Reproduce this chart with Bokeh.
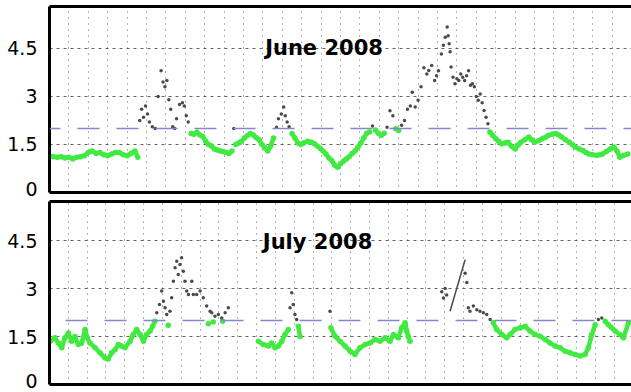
import numpy as np
from bokeh.plotting import figure
from bokeh.layouts import column
from bokeh.models import FixedTicker, LinearAxis, Span, Label, Range1d
from bokeh.embed import file_html
from bokeh.resources import INLINE

THRESHOLD = 2.0
Y_TICK_LABELS = ["0", "1.5", "3", "4.5"]

# ---------------- June 2008 (day of month offset, value) ----------------
june_day = [0.0, 0.2, 0.4, 0.6, 0.8, 1.0, 1.2, 1.4, 1.6, 1.8, 2.0, 2.2, 2.4, 2.6, 2.8, 3.0, 3.2, 3.4,
            3.6, 3.8, 4.0, 4.2, 4.4, 4.55,
            4.65, 4.75, 4.85, 4.95, 5.05, 5.15, 5.3, 5.45, 5.6, 5.75, 5.85, 5.95, 6.05, 6.15, 6.25,
            6.35, 6.45, 6.55, 6.7, 6.85, 6.95, 7.05, 7.15,
            7.3, 7.45, 7.6, 7.75, 7.9, 8.05, 8.2, 8.35, 8.5, 8.65, 8.8, 8.95, 9.1, 9.25, 9.4, 9.5,
            9.6, 9.75, 9.9, 10.05, 10.2, 10.35, 10.5, 10.65, 10.8, 10.95, 11.1, 11.25, 11.4, 11.55,
            11.7, 11.8, 11.95, 12.07, 12.15, 12.25, 12.35,
            12.5, 12.65, 12.8, 12.95, 13.1, 13.3, 13.5, 13.65, 13.8, 13.95, 14.1, 14.25, 14.4, 14.55,
            14.7, 14.85, 15.0, 15.15, 15.3, 15.45, 15.6, 15.75, 15.9, 16.05, 16.2, 16.35, 16.5,
            16.65, 16.8, 16.95, 17.1, 17.25, 17.4, 17.55, 17.7, 17.85, 18.0, 18.15, 18.3, 18.45,
            18.6, 18.7, 18.85, 19.0, 19.15, 19.3, 19.45, 19.55, 19.7, 19.85, 19.95, 20.05, 20.2,
            20.3, 20.4, 20.5, 20.55, 20.6, 20.65, 20.7, 20.8, 20.9, 21.0, 21.1, 21.2, 21.3, 21.4,
            21.5, 21.6, 21.7, 21.8, 21.9, 22.0, 22.1, 22.2, 22.3, 22.4, 22.5, 22.6,
            22.7, 22.85, 23.0, 23.15, 23.3, 23.5, 23.65, 23.8, 24.0, 24.15, 24.3, 24.5, 24.7,
            24.85, 25.0, 25.2, 25.4, 25.55, 25.7, 25.9, 26.1, 26.25, 26.4, 26.6, 26.8, 26.95,
            27.1, 27.3, 27.5, 27.65, 27.8, 28.0, 28.2, 28.35, 28.5, 28.7, 28.9, 29.1, 29.25,
            29.4, 29.6, 29.8]
june_val = [1.15, 1.12, 1.10, 1.12, 1.08, 1.10, 1.05, 1.10, 1.12, 1.15, 1.25, 1.30, 1.22, 1.25, 1.18,
            1.15, 1.20, 1.25, 1.25, 1.18, 1.15, 1.22, 1.30, 1.10,
            2.25, 2.6, 2.35, 2.7, 2.45, 2.2, 2.05, 2.0, 3.0, 3.8, 3.45, 3.3, 3.5, 2.9, 2.6,
            2.05, 2.0, 2.3, 2.75, 2.8, 2.7, 2.4, 2.2,
            1.84, 1.82, 1.88, 1.80, 1.75, 1.6, 1.5, 1.45, 1.36, 1.33, 1.3, 1.28, 1.25, 1.22, 1.3, 2.0,
            1.5, 1.55, 1.6, 1.7, 1.78, 1.84, 1.8, 1.72, 1.65, 1.5, 1.4, 1.3, 1.45, 1.7,
            2.04, 2.3, 2.45, 2.67, 2.4, 2.2, 2.05,
            1.84, 1.7, 1.55, 1.5, 1.55, 1.6, 1.57, 1.52, 1.45, 1.38, 1.3, 1.2, 1.08, 1.0,
            0.85, 0.79, 0.9, 0.98, 1.05, 1.12, 1.22, 1.3, 1.42, 1.55, 1.7, 1.85, 1.89,
            2.08, 1.95, 1.85, 1.78, 1.85, 2.04, 2.55, 2.4, 1.99, 1.94, 2.1, 2.25, 2.6,
            2.7, 3.13, 2.67, 2.88, 3.3, 3.9, 3.7, 3.81, 3.97, 3.5, 3.65, 3.8, 4.33,
            4.6, 4.85, 5.17, 4.9, 4.65, 4.4, 3.92, 3.6, 3.4, 3.55, 3.5, 3.7, 3.6, 3.5,
            3.65, 3.8, 3.35, 3.4, 3.3, 3.0, 2.88, 3.08, 2.8, 2.56, 2.35, 2.15,
            1.89, 1.78, 1.68, 1.6, 1.52, 1.55, 1.57, 1.45, 1.36, 1.48, 1.57, 1.65, 1.73,
            1.65, 1.57, 1.62, 1.68, 1.72, 1.78, 1.82, 1.84, 1.8, 1.73, 1.65, 1.57, 1.5,
            1.42, 1.36, 1.31, 1.25, 1.2, 1.18, 1.16, 1.18, 1.2, 1.28, 1.36, 1.42, 1.3,
            1.1, 1.16, 1.2]

# ---------------- July 2008 ----------------
july_day = [0.03, 0.29, 0.47, 0.65, 0.82, 1.0, 1.18, 1.35, 1.53, 1.71, 1.89, 2.01, 2.15, 2.42, 2.68,
            2.95, 3.12, 3.3, 3.48, 3.66, 3.83, 4.01, 4.28, 4.45, 4.63, 4.81, 4.99, 5.16, 5.34,
            5.48, 5.6,
            5.7, 5.84, 5.96, 6.05, 6.14, 6.23, 6.31, 6.4, 6.49, 6.58, 6.67, 6.76, 6.84, 6.93,
            7.02, 7.11, 7.2, 7.29, 7.38, 7.56, 7.64, 7.82, 8.0, 8.17, 8.35, 8.44, 8.53, 8.62,
            8.7, 8.79, 8.97, 9.15, 9.2, 9.33, 9.5,
            11.1, 11.36, 11.63, 11.8, 11.98, 12.16, 12.34, 12.51, 12.69, 12.78, 12.87, 12.95,
            13.04, 13.13, 13.22, 13.31,
            14.9, 14.95, 15.17, 15.44, 15.7, 15.97, 16.23, 16.5, 16.77, 17.03, 17.3, 17.56,
            17.83, 18.09, 18.27, 18.53, 18.71, 18.89, 18.98, 19.06, 19.16,
            20.84, 20.93, 21.02, 21.1,
            22.08, 22.17, 22.25, 22.34, 22.52, 22.7, 22.87, 23.05, 23.23, 23.41,
            23.58, 23.76, 24.03, 24.29, 24.47, 24.73, 25.0, 25.27, 25.53, 25.8, 26.06, 26.33,
            26.59, 26.86, 27.13, 27.39, 27.66, 27.92, 28.19, 28.45, 28.63, 28.81, 28.99, 29.16,
            29.34, 29.52, 29.69, 29.87, 30.05, 30.31, 30.49, 30.76]
july_val = [1.35, 1.46, 1.3, 1.15, 1.46, 1.61, 1.35, 1.5, 1.25, 1.3, 1.72, 1.46, 1.3, 1.15, 0.99,
            0.83, 0.8, 0.99, 1.09, 1.25, 1.2, 1.15, 1.35, 1.56, 1.72, 1.56, 1.35, 1.56, 1.67,
            1.82, 1.98,
            2.24, 2.5, 2.92, 2.6, 2.4, 2.19, 1.85, 2.29, 2.71, 3.23, 3.65, 3.85, 3.44, 3.75,
            3.96, 3.54, 3.23, 2.92, 2.81, 3.23, 2.81, 2.81, 2.92, 2.71, 2.45, 1.9, 2.29, 2.24,
            1.95, 2.13, 2.19, 2.08, 1.98, 2.24, 2.4,
            1.35, 1.25, 1.2, 1.3, 1.15, 1.2, 1.35, 1.56, 1.72, 2.4, 2.87, 2.5,
            2.19, 2.03, 1.82, 1.5,
            2.29, 1.77, 1.51, 1.35, 1.2, 1.04, 0.94, 1.15, 1.25, 1.3, 1.41, 1.35,
            1.46, 1.35, 1.56, 1.46, 1.77, 1.93, 1.67, 1.5, 1.35,
            2.9, 2.7, 3.0, 2.8,
            3.48, 3.19, 2.4, 2.29, 2.45, 2.34, 2.29, 2.24, 2.19, 2.03,
            1.93, 1.72, 1.56, 1.46, 1.56, 1.72, 1.77, 1.82, 1.67, 1.56, 1.51, 1.41,
            1.3, 1.2, 1.15, 1.04, 0.99, 0.94, 0.89, 0.94, 1.15, 1.56, 1.87, 2.03,
            2.08, 1.98, 1.87, 1.77, 1.67, 1.56, 1.46, 1.93]
july_ramp_day = [21.28, 22.08]
july_ramp_val = [2.29, 3.9]

GREEN = "#40ea40"
GRAY = "#4a4a4a"


def panel(days, vals, title, n_days, x_end, y_end, height, border_top, border_bottom,
          border_left, dash_offset, title_x, title_y, zero_pos):
    p = figure(width=631, height=height, output_backend="svg", toolbar_location=None,
               x_range=Range1d(0, x_end), y_range=Range1d(0, y_end),
               min_border_left=border_left, min_border_right=0,
               min_border_top=border_top, min_border_bottom=border_bottom)
    p.outline_line_color = None
    p.background_fill_color = "white"
    p.border_fill_color = "white"

    # left axis: labels only (the "0" label is lifted slightly so it stays inside the panel)
    tick_pos = [zero_pos, 1.5, 3, 4.5]
    p.yaxis.ticker = FixedTicker(ticks=tick_pos)
    p.yaxis.major_label_overrides = {t: s for t, s in zip(tick_pos, Y_TICK_LABELS)}
    p.yaxis.major_label_text_font = "DejaVu Sans"
    p.yaxis.major_label_text_font_size = "19px"
    p.yaxis.major_label_text_color = "black"
    p.yaxis.major_label_standoff = 6
    for ax in [p.yaxis[0], p.xaxis[0]]:
        ax.axis_line_width = 3
        ax.axis_line_color = "black"
        ax.major_tick_line_color = None
        ax.minor_tick_line_color = None
    p.xaxis.ticker = FixedTicker(ticks=[])
    p.xaxis.major_label_text_font_size = "0px"
    p.xaxis.major_label_standoff = 0
    top_axis = LinearAxis(ticker=FixedTicker(ticks=[]), axis_line_width=3,
                          axis_line_color="black", major_tick_line_color=None,
                          minor_tick_line_color=None, major_label_text_font_size="0px",
                          major_label_standoff=0)
    p.add_layout(top_axis, "above")

    # grids
    p.xgrid.ticker = FixedTicker(ticks=list(range(1, n_days + 1)))
    p.xgrid.grid_line_color = "#303030"
    p.xgrid.grid_line_alpha = 0.75
    p.xgrid.grid_line_dash = "1 5"
    p.ygrid.ticker = FixedTicker(ticks=[1.5, 3, 4.5])
    p.ygrid.grid_line_color = "#303030"
    p.ygrid.grid_line_alpha = 0.75
    p.ygrid.grid_line_dash = "3 4"

    # threshold
    p.add_layout(Span(location=THRESHOLD, dimension="width", line_color="#8585d2",
                      line_width=1.5, line_dash="22 17", line_dash_offset=dash_offset))

    d = np.array(days)
    v = np.array(vals)
    lo = v < THRESHOLD
    green_line = np.where(lo, v, np.nan)
    p.line(d, green_line, line_color=GREEN, line_width=4.5)
    p.scatter(d[lo], v[lo], size=5.5, color=GREEN, line_color=None)
    p.scatter(d[~lo], v[~lo], size=3.5, color=GRAY, line_color=None)

    p.add_layout(Label(x=title_x, y=title_y, text=title, text_align="center",
                       text_baseline="middle", text_font="DejaVu Sans",
                       text_font_style="bold", text_font_size="21px", text_color="black"))
    return p


top = panel(june_day, june_val, "June 2008", 30, 30.0, 5.81, 200, 6, 8, 48, 11, 14.15, 4.5, 0.1)
bottom = panel(july_day, july_val, "July 2008", 31, 30.92, 5.72, 192, 1, 8, 49, 23, 14.24, 4.44, 0.1)
bottom.line(july_ramp_day, july_ramp_val, line_color=GRAY, line_width=1.5)

layout = column(top, bottom, spacing=0)
open("out.html", "w").write(file_html(layout, INLINE))
